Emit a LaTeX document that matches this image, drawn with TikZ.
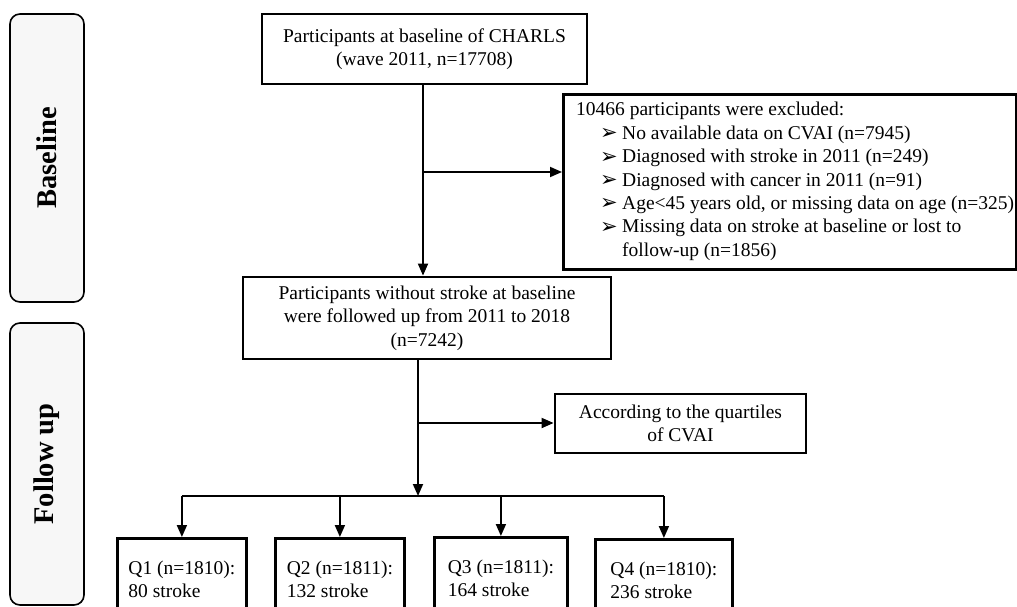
\documentclass[tikz,border=0pt]{standalone}
\usepackage{fontspec}
\setmainfont{Liberation Serif}
\newfontfamily\dejavu{DejaVu Sans}
\usetikzlibrary{arrows.meta}
\definecolor{sidegray}{HTML}{F7F7F7}
\newcommand\exbul{\makebox[22pt][l]{\raisebox{-0.5pt}{\dejavu\fontsize{21}{21}\selectfont ➢}}}
\begin{document}
\begin{tikzpicture}[x=1pt,y=-1pt,
  mainbox/.style={draw, line width=2.8pt, align=center, inner sep=0pt,
    font=\fontsize{19.5}{23.5}\selectfont},
  qbox/.style={draw, line width=2.8pt, align=left, anchor=north west,
    inner xsep=0pt, inner ysep=20pt, minimum height=82pt,
    font=\fontsize{19.5}{23.5}\selectfont},
  sidebox/.style={draw, line width=1.6pt, rounded corners=10pt, fill=sidegray, inner sep=0pt},
  sidelabel/.style={rotate=90, inner sep=0pt, font=\fontsize{28.5}{30}\selectfont\bfseries},
  arr/.style={line width=1.8pt, -{Triangle[length=12pt,width=10pt]}},
  conn/.style={line width=1.8pt},
  txt/.style={anchor=base west, inner sep=0pt, font=\fontsize{19.5}{23.5}\selectfont},
]
\useasboundingbox (0,0) rectangle (1017,607);

% side labels
\node[sidebox, minimum width=74pt, minimum height=288pt] (basebox) at (47,158) {};
\node[sidelabel] (baselbl) at (basebox.center) {Baseline};
\node[sidebox, minimum width=74pt, minimum height=282pt] (fupbox) at (47,464) {};
\node[sidelabel] (fuplbl) at (fupbox.center) {Follow up};

% main boxes
\node[mainbox, minimum width=325pt, minimum height=70pt] (top) at (424.5,49)
  {Participants at baseline of CHARLS\\(wave 2011, n=17708)};
\node[mainbox, minimum width=368pt, minimum height=82pt] (mid) at (427,318)
  {Participants without stroke at baseline\\were followed up from 2011 to 2018\\(n=7242)};
\node[mainbox, minimum width=251pt, minimum height=59pt] (quart) at (680.5,423.5)
  {According to the quartiles\\of CVAI};

% exclusion box
\node[draw, line width=2.8pt, inner sep=0pt, anchor=north west,
  minimum width=453pt, minimum height=175pt] (excl) at (562,93) {};
\node[txt] (ex0) at (576,116) {10466 participants were excluded:};
\node[txt] (ex1) at (600,139.3) {\exbul No available data on CVAI (n=7945)};
\node[txt] (ex2) at (600,162.6) {\exbul Diagnosed with stroke in 2011 (n=249)};
\node[txt] (ex3) at (600,186) {\exbul Diagnosed with cancer in 2011 (n=91)};
\node[txt] (ex4) at (600,209.3) {\exbul Age<45 years old, or missing data on age (n=325)};
\node[txt] (ex5) at (600,232.6) {\exbul Missing data on stroke at baseline or lost to};
\node[txt] (ex6) at (622,256) {follow-up (n=1856)};

% quartile boxes
\node[qbox, minimum width=129pt] (q1) at (116,537) {Q1 (n=1810):\\80 stroke};
\node[qbox, minimum width=129pt] (q2) at (274,537) {Q2 (n=1811):\\132 stroke};
\node[qbox, minimum width=133pt] (q3) at (433,536) {Q3 (n=1811):\\164 stroke};
\node[qbox, minimum width=137pt] (q4) at (594,538) {Q4 (n=1810):\\236 stroke};

% connectors
\coordinate (b1) at (423,172);
\draw[arr] (top.south -| b1) -- (mid.north -| b1);
\draw[arr] (b1) -- (b1 -| excl.west);

\coordinate (bar) at (418,496);
\coordinate (b2) at (418,423);
\draw[arr] (mid.south -| bar) -- (bar);
\draw[arr] (b2) -- (b2 -| quart.west);
\draw[conn] (q1.north |- bar) -- (q4.north |- bar);
\draw[arr] (q1.north |- bar) -- (q1.north);
\draw[arr] (q2.north |- bar) -- (q2.north);
\draw[arr] (q3.north |- bar) -- (q3.north);
\draw[arr] (q4.north |- bar) -- (q4.north);
\end{tikzpicture}
\end{document}
